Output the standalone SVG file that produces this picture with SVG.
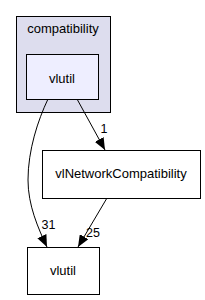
<svg xmlns="http://www.w3.org/2000/svg" width="205" height="300" viewBox="0 0 205 300">
<style>
text{font-family:"Liberation Sans",Arial,sans-serif;font-size:13px;fill:#000}
.n{stroke:#000;stroke-width:1}
.e{fill:none;stroke:#000;stroke-width:1}
.lbl{font-size:12.5px}
</style>
<defs>
<marker id="arr" viewBox="0 0 12 10" refX="12" refY="5" markerWidth="12" markerHeight="10" markerUnits="userSpaceOnUse" orient="auto">
<path d="M0,0 L12,5 L0,10 Z" fill="#000"/>
</marker>
</defs>
<rect width="205" height="300" fill="#fff"/>
<g id="cluster_compatibility">
<rect x="16.5" y="16.5" width="94" height="96" fill="#ddddee" class="n"/>
<text x="63" y="33" text-anchor="middle">compatibility</text>
</g>
<g id="node_vlutil_inner">
<rect x="26.5" y="54.5" width="72" height="45" fill="#eeeeff" class="n"/>
<text x="62" y="83" text-anchor="middle">vlutil</text>
</g>
<g id="node_vlNetworkCompatibility">
<rect x="42.5" y="150.5" width="158" height="48" fill="#fff" class="n"/>
<text x="121" y="178" text-anchor="middle">vlNetworkCompatibility</text>
</g>
<g id="node_vlutil">
<rect x="27.5" y="247.5" width="72" height="47" fill="#fff" class="n"/>
<text x="63" y="275" text-anchor="middle">vlutil</text>
</g>
<g id="connectors">
<path class="e" d="M77,99 L105,150" marker-end="url(#arr)"/>
<text class="lbl" x="104" y="133" text-anchor="middle">1</text>
<path class="e" d="M48,99 C38,120 28,150 28,180 C28,205 38,228 47,247" marker-end="url(#arr)"/>
<text class="lbl" x="48.5" y="229" text-anchor="middle">31</text>
<path class="e" d="M107,198 L78,247" marker-end="url(#arr)"/>
<text class="lbl" x="93" y="237" text-anchor="middle">25</text>
</g>
</svg>
